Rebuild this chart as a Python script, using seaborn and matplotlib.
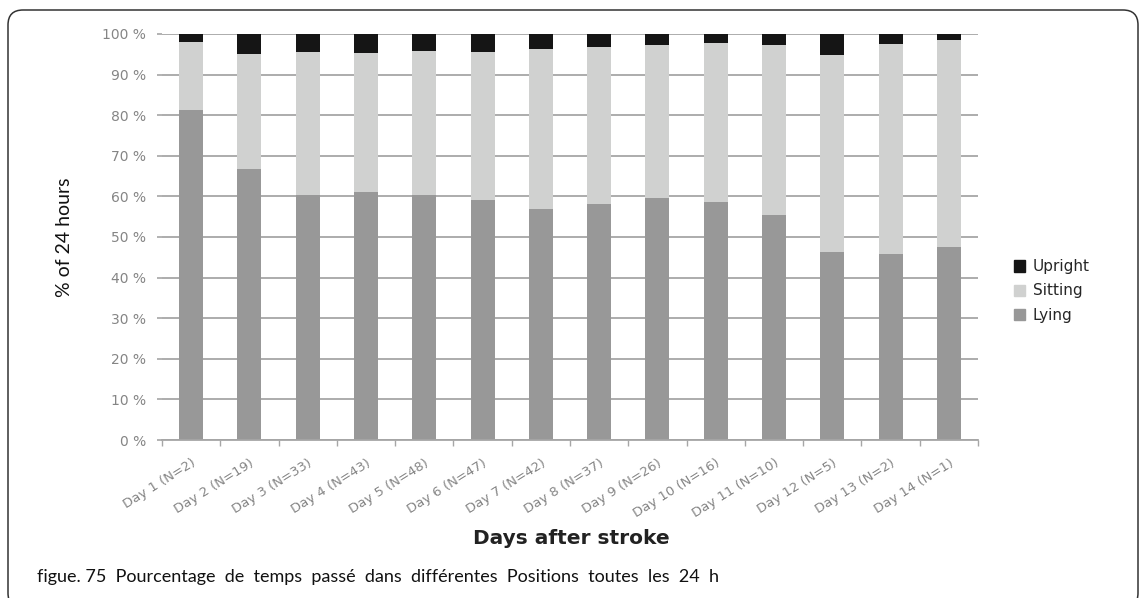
import numpy as np
import pandas as pd
import matplotlib
matplotlib.use("Agg")
import matplotlib.pyplot as plt
from matplotlib.patches import Patch, FancyBboxPatch
import seaborn as sns

# donnees (% des 24 h)
days = ["Day 1 (N=2)", "Day 2 (N=19)", "Day 3 (N=33)", "Day 4 (N=43)", "Day 5 (N=48)",
        "Day 6 (N=47)", "Day 7 (N=42)", "Day 8 (N=37)", "Day 9 (N=26)", "Day 10 (N=16)",
        "Day 11 (N=10)", "Day 12 (N=5)", "Day 13 (N=2)", "Day 14 (N=1)"]
lying = [81.3, 66.7, 60.4, 61.1, 60.4, 59.1, 56.8, 58.1, 59.5, 58.5, 55.3, 46.2, 45.7, 47.6]
sitting = [16.8, 28.4, 35.1, 34.3, 35.4, 36.5, 39.6, 38.8, 37.7, 39.4, 41.9, 48.7, 51.9, 51.0]
upright = [1.9, 4.9, 4.5, 4.6, 4.2, 4.4, 3.6, 3.1, 2.8, 2.1, 2.8, 5.1, 2.4, 1.4]
yticks = [0, 10, 20, 30, 40, 50, 60, 70, 80, 90, 100]

df = pd.DataFrame({"day": days, "Lying": lying, "Sitting": sitting, "Upright": upright})
df["lying_sitting"] = df["Lying"] + df["Sitting"]
df["total"] = df["lying_sitting"] + df["Upright"]

c_up = "#151515"
c_sit = "#d0d1d0"
c_lie = "#989898"
c_grid = "#a6a6a6"
c_txt = "#858585"

sns.set_style("white")
plt.rcParams["font.family"] = ["DejaVu Sans"]

fig = plt.figure(figsize=(11.4, 5.98), dpi=100)
ax = fig.add_axes([162 / 1140, 1 - 440 / 598, 816 / 1140, 406 / 598])

# barres empilees: on dessine le total puis on recouvre
sns.barplot(data=df, x="day", y="total", color=c_up, saturation=1, width=0.41, linewidth=0, ax=ax)
sns.barplot(data=df, x="day", y="lying_sitting", color=c_sit, saturation=1, width=0.41, linewidth=0, ax=ax)
sns.barplot(data=df, x="day", y="Lying", color=c_lie, saturation=1, width=0.41, linewidth=0, ax=ax)

ax.set_xlim(-0.5, len(days) - 0.5)
ax.set_ylim(0, 100)
ax.set_yticks(yticks)
ax.set_yticklabels([f"{v} %" for v in yticks], color=c_txt, fontsize=10)
ax.yaxis.grid(True, color=c_grid, lw=1.3)
ax.set_axisbelow(True)
ax.tick_params(axis="y", length=3.6, width=1.2, color=c_grid, pad=8, left=True)

ax.set_xticks(range(len(days)))
ax.set_xticklabels(days, rotation=32, ha="right", va="top", rotation_mode="anchor",
                   color=c_txt, fontsize=9.5)
ax.set_xticks(np.arange(-0.5, len(days), 1), minor=True)
ax.tick_params(axis="x", which="major", length=0, pad=12)
ax.tick_params(axis="x", which="minor", length=4, width=1, color=c_grid, bottom=True)

for s in ["top", "right", "left"]:
    ax.spines[s].set_visible(False)
ax.spines["bottom"].set_color(c_grid)
ax.spines["bottom"].set_linewidth(1.3)
ax.set_xlabel("")
ax.set_ylabel("")

fig.text(65 / 1140, 1 - 237 / 598, "% of 24 hours", rotation=90, ha="center", va="center",
         fontsize=14, family=["Lato", "DejaVu Sans"], color="#111111")
fig.text(571 / 1140, 1 - 538 / 598, "Days after stroke", ha="center", va="center",
         fontsize=14.5, fontweight="bold", color="#222222")
fig.text(37 / 1140, 1 - 577 / 598,
         "figue. 75  Pourcentage  de  temps  passé  dans  différentes  Positions  toutes  les  24  h",
         ha="left", va="center", fontsize=13, family=["Lato", "DejaVu Sans"], color="#111111")

handles = [Patch(color=c_up, label="Upright"), Patch(color=c_sit, label="Sitting"),
           Patch(color=c_lie, label="Lying")]
fig.legend(handles=handles, loc="center left", bbox_to_anchor=(1000 / 1140, 1 - 291 / 598),
           frameon=False, fontsize=11, handlelength=0.75, handleheight=0.75,
           handletextpad=0.5, labelspacing=0.6)

# cadre arrondi autour de la figure
cadre = FancyBboxPatch((0.08, -0.1), 11.3, 5.98, boxstyle="round,pad=0,rounding_size=0.15",
                       transform=fig.dpi_scale_trans, fill=False, ec="#333333", lw=1.1)
fig.add_artist(cadre)

fig.savefig("out.png", dpi=100)
